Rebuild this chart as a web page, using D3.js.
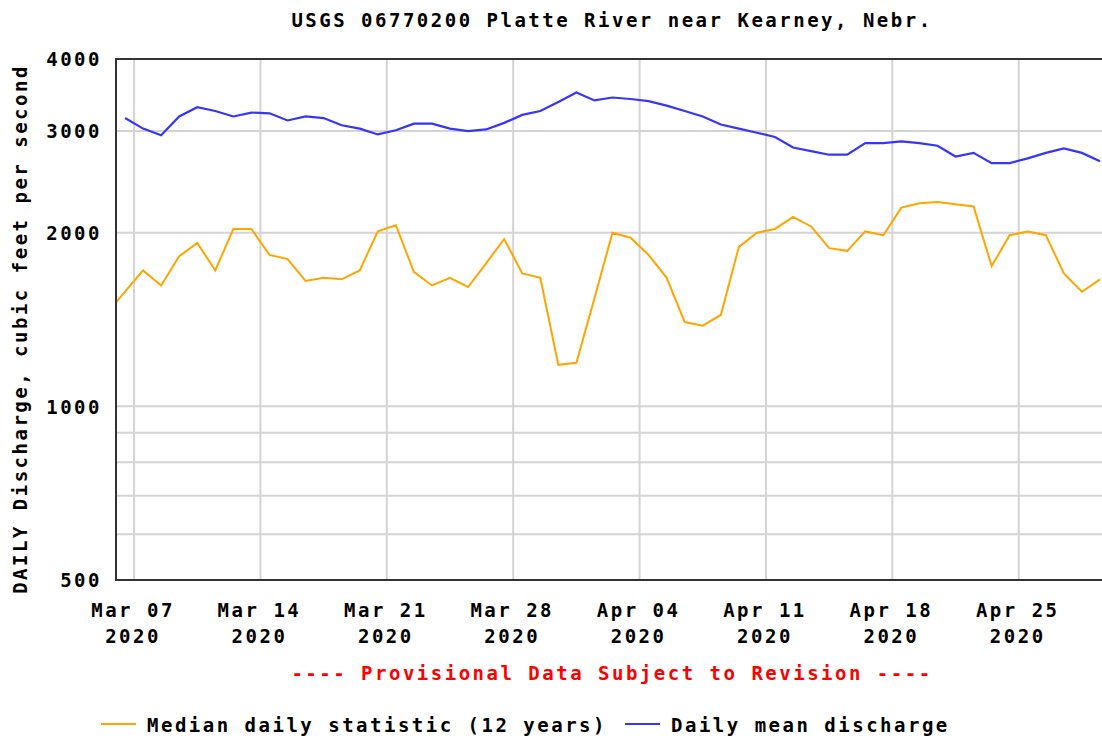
<!DOCTYPE html>
<html>
<head>
<meta charset="utf-8">
<script src="https://cdn.jsdelivr.net/npm/d3@7"></script>
<style>
  html, body { margin: 0; padding: 0; background: #fff; }
  svg { display: block; }
  text { font-family: "DejaVu Sans Mono", "Liberation Mono", monospace; font-weight: bold; font-size: 19px; letter-spacing: 2.5px; }
</style>
</head>
<body>
<svg id="chart" width="1102" height="742"></svg>
<script>
// Daily discharge, Platte River near Kearney (cfs)
const medianStart = "2020-03-05";
const medianValues = [
  1450, 1580, 1720, 1620, 1820, 1920, 1720, 2030, 2030, 1830,
  1800, 1650, 1670, 1660, 1720, 2010, 2060, 1710, 1620, 1670,
  1610, 1770, 1950, 1700, 1670, 1180, 1190,
  1540, 2000, 1960, 1830, 1670, 1400, 1380, 1440, 1890, 2000,
  2030, 2130, 2050, 1880, 1860, 2010, 1980, 2210, 2250, 2260,
  2240, 2220, 1750, 1980, 2010, 1980, 1700, 1580, 1660
];
const meanStart = "2020-03-06";
const meanValues = [
  3160, 3030, 2950, 3180, 3300, 3250, 3180, 3230, 3220, 3130,
  3180, 3160, 3070, 3030, 2960, 3010, 3090, 3090, 3030, 3000,
  3020, 3100, 3200, 3250, 3370, 3500,
  3390, 3430, 3410, 3380, 3320, 3250, 3180, 3080, 3030, 2980,
  2930, 2810, 2770, 2730, 2730, 2860, 2860, 2880, 2860, 2830,
  2710, 2750, 2640, 2640, 2690, 2750, 2800, 2750, 2660
];
const yLabelTicks = [500, 1000, 2000, 3000, 4000];
const yGridTicks = [500, 600, 700, 800, 900, 1000, 2000, 3000, 4000];
const xTickDates = ["2020-03-07", "2020-03-14", "2020-03-21", "2020-03-28",
                    "2020-04-04", "2020-04-11", "2020-04-18", "2020-04-25"];
const titleText = "USGS 06770200 Platte River near Kearney, Nebr.";
const yTitle = "DAILY Discharge, cubic feet per second";
const noteText = "---- Provisional Data Subject to Revision ----";
const seriesNames = ["Median daily statistic (12 years)", "Daily mean discharge"];
const seriesColors = ["#ffa500", "#3535ff"];

const svg = d3.select("#chart");
const W = 1102, H = 742;
const plot = { left: 116, top: 59, right: 1109, bottom: 580 };

svg.append("rect").attr("width", W).attr("height", H).attr("fill", "#fff");

const parse = d3.utcParse("%Y-%m-%d");
const dayMs = 864e5;
// daily values sit at noon of their day
function toSeries(start, values) {
  const t0 = parse(start).getTime();
  return values.map((v, i) => ({ date: new Date(t0 + i * dayMs + dayMs / 2), value: v }));
}
const median = toSeries(medianStart, medianValues);
const mean = toSeries(meanStart, meanValues);

const x = d3.scaleUtc()
  .domain([parse("2020-03-06"), parse("2020-04-30")])
  .range([plot.left, plot.right]);
const y = d3.scaleLog()
  .domain([500, 4000])
  .range([plot.bottom, plot.top]);

// grid
const grid = svg.append("g").attr("stroke", "#d4d4d4").attr("stroke-width", 2);
grid.selectAll("line.h").data(yGridTicks).join("line")
  .attr("x1", plot.left).attr("x2", plot.right)
  .attr("y1", d => y(d)).attr("y2", d => y(d));
grid.selectAll("line.v").data(xTickDates.map(parse)).join("line")
  .attr("x1", d => x(d)).attr("x2", d => x(d))
  .attr("y1", plot.top).attr("y2", plot.bottom);

// data lines
svg.append("clipPath").attr("id", "plotClip").append("rect")
  .attr("x", plot.left).attr("y", plot.top)
  .attr("width", plot.right - plot.left).attr("height", plot.bottom - plot.top);
const line = d3.line().x(d => x(d.date)).y(d => y(d.value));
const lines = svg.append("g").attr("clip-path", "url(#plotClip)").attr("fill", "none");
lines.append("path").datum(median).attr("d", line)
  .attr("stroke", seriesColors[0]).attr("stroke-width", 2);
lines.append("path").datum(mean).attr("d", line)
  .attr("stroke", seriesColors[1]).attr("stroke-width", 2.2);

// frame
svg.append("path")
  .attr("d", `M${plot.right},${plot.top}H${plot.left}V${plot.bottom}H${plot.right}`)
  .attr("fill", "none").attr("stroke", "#333").attr("stroke-width", 2);

// y axis labels
const yAxis = d3.axisLeft(y).tickValues(yLabelTicks).tickFormat(d3.format("d")).tickSize(0).tickPadding(0);
const yg = svg.append("g").attr("transform", `translate(${102},0)`).call(yAxis);
yg.select(".domain").remove();
yg.selectAll("text").attr("font-size", null).attr("font-family", null).attr("fill", "#000")
  .attr("dy", "0.36em");

// x axis labels, two lines each
const xAxis = d3.axisBottom(x).tickValues(xTickDates.map(parse)).tickSize(0).tickFormat("");
const xg = svg.append("g").attr("transform", `translate(0,${plot.bottom})`).call(xAxis);
xg.select(".domain").remove();
const fmtMD = d3.utcFormat("%b %d"), fmtY = d3.utcFormat("%Y");
xg.selectAll(".tick").each(function(d) {
  const t = d3.select(this).select("text").attr("font-size", null).attr("font-family", null)
    .attr("fill", "#000").attr("y", 0).attr("dy", null).text(null);
  t.append("tspan").attr("x", -1.5).attr("y", 37).text(fmtMD(d));
  t.append("tspan").attr("x", -1.5).attr("y", 63).text(fmtY(d));
});

// titles
svg.append("text").attr("x", 612).attr("y", 27).attr("text-anchor", "middle").text(titleText);
svg.append("text").attr("transform", "translate(27,329) rotate(-90)")
  .attr("text-anchor", "middle").text(yTitle);
svg.append("text").attr("x", 612).attr("y", 680).attr("text-anchor", "middle")
  .attr("fill", "#ff0000").text(noteText);

// legend
const legendItems = [
  { name: seriesNames[0], color: seriesColors[0], x0: 101, x1: 136, tx: 147 },
  { name: seriesNames[1], color: seriesColors[1], x0: 625, x1: 660, tx: 671 }
];
const lg = svg.append("g");
legendItems.forEach(it => {
  lg.append("line").attr("x1", it.x0).attr("x2", it.x1).attr("y1", 724).attr("y2", 724)
    .attr("stroke", it.color).attr("stroke-width", 2);
  lg.append("text").attr("x", it.tx).attr("y", 732).text(it.name);
});
</script>
</body>
</html>
